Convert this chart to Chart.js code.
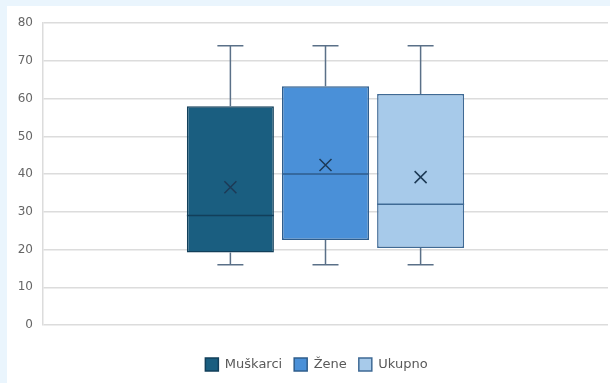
<!DOCTYPE html>
<html>
<head>
<meta charset="utf-8">
<script src="https://cdn.jsdelivr.net/npm/chart.js@4/dist/chart.umd.min.js"></script>
<style>
  html, body { margin: 0; padding: 0; background: #eaf5fd; }
  #wrap { position: absolute; left: 7px; top: 6px; width: 603px; height: 377px; background: #ffffff; overflow: hidden; }
</style>
</head>
<body>
<div id="wrap"><canvas id="c" width="603" height="377"></canvas></div>
<script>
// Group names and five-number summaries (plus mean) for each group
const categories = ['Muškarci', 'Žene', 'Ukupno'];
const minimum = [16, 16, 16];
const q1      = [19.2, 22.5, 20.4];
const median  = [29, 40, 32];
const q3      = [58, 63.3, 61.2];
const maximum = [74, 74, 74];
const mean    = [36.5, 42.4, 39.2];
const yTicks  = [0, 10, 20, 30, 40, 50, 60, 70, 80];

const fills   = ['#1a5e80', '#4a90d8', '#a7caea'];
const borders = ['#123f5a', '#2f5d8c', '#3f6a95'];
const whiskerColor = '#5a7088';

// Keeps the bottom legend band at a fixed height and nudges it under the boxes
const legendBand = {
  id: 'legendBand',
  beforeLayout(chart) {
    const lg = chart.legend;
    if (lg && !lg._bandPatched) {
      const fit = lg.fit.bind(lg);
      lg.fit = function () { fit(); this.height = 50; };
      lg._bandPatched = true;
    }
  },
  afterLayout(chart) {
    const lg = chart.legend;
    if (lg) { lg.left += 9; lg.right += 9; }
  }
};

// Draws whiskers, caps, median line and mean marker on top of each box
const boxExtras = {
  id: 'boxExtras',
  afterDatasetsDraw(chart) {
    const ctx = chart.ctx;
    const y = chart.scales.y;
    chart.data.datasets.forEach((ds, i) => {
      const bar = chart.getDatasetMeta(i).data[0];
      if (!bar) return;
      const cx = bar.x;
      const half = bar.width / 2;
      const cap = 13;
      ctx.save();
      ctx.lineWidth = 1.5;
      ctx.strokeStyle = whiskerColor;
      ctx.beginPath();
      ctx.moveTo(cx, y.getPixelForValue(q3[i]));
      ctx.lineTo(cx, y.getPixelForValue(maximum[i]));
      ctx.moveTo(cx - cap, y.getPixelForValue(maximum[i]));
      ctx.lineTo(cx + cap, y.getPixelForValue(maximum[i]));
      ctx.moveTo(cx, y.getPixelForValue(q1[i]));
      ctx.lineTo(cx, y.getPixelForValue(minimum[i]));
      ctx.moveTo(cx - cap, y.getPixelForValue(minimum[i]));
      ctx.lineTo(cx + cap, y.getPixelForValue(minimum[i]));
      ctx.stroke();
      // median
      ctx.strokeStyle = borders[i];
      ctx.lineWidth = 1.5;
      ctx.beginPath();
      const my = y.getPixelForValue(median[i]);
      ctx.moveTo(cx - half, my);
      ctx.lineTo(cx + half, my);
      ctx.stroke();
      // mean marker
      const ey = y.getPixelForValue(mean[i]);
      const s = 6;
      ctx.strokeStyle = '#1d3a56';
      ctx.lineWidth = 1.5;
      ctx.beginPath();
      ctx.moveTo(cx - s, ey - s); ctx.lineTo(cx + s, ey + s);
      ctx.moveTo(cx - s, ey + s); ctx.lineTo(cx + s, ey - s);
      ctx.stroke();
      ctx.restore();
    });
  }
};

new Chart(document.getElementById('c'), {
  type: 'bar',
  data: {
    labels: [''],
    datasets: categories.map((name, i) => ({
      label: name,
      data: [[q1[i], q3[i]]],
      backgroundColor: fills[i],
      borderColor: borders[i],
      borderWidth: 1.5,
      borderSkipped: false,
      categoryPercentage: 0.505,
      barPercentage: 0.915
    }))
  },
  options: {
    responsive: false,
    animation: false,
    layout: { padding: { left: 0, right: 2, top: 9, bottom: 0 } },
    plugins: {
      tooltip: { enabled: false },
      legend: {
        position: 'bottom',
        title: { display: true, text: ' ', padding: { top: 1, bottom: 0 }, font: { size: 10 } },
        labels: {
          boxWidth: 13,
          boxHeight: 13,
          padding: 12,
          color: '#595959',
          font: { family: 'DejaVu Sans', size: 13 }
        }
      }
    },
    scales: {
      x: {
        grid: { display: false },
        border: { display: false },
        ticks: { display: false }
      },
      y: {
        min: 0,
        max: 80,
        afterBuildTicks: (s) => { s.ticks = yTicks.map(v => ({ value: v })); },
        afterFit: (s) => { s.width = 36; },
        grid: { color: '#dcdcdc', lineWidth: 1.5, drawTicks: false },
        border: { display: true, color: '#dcdcdc', width: 1.5 },
        ticks: {
          padding: 10,
          color: '#666666',
          font: { family: 'DejaVu Sans', size: 12 }
        }
      }
    }
  },
  plugins: [legendBand, boxExtras]
});
</script>
</body>
</html>
